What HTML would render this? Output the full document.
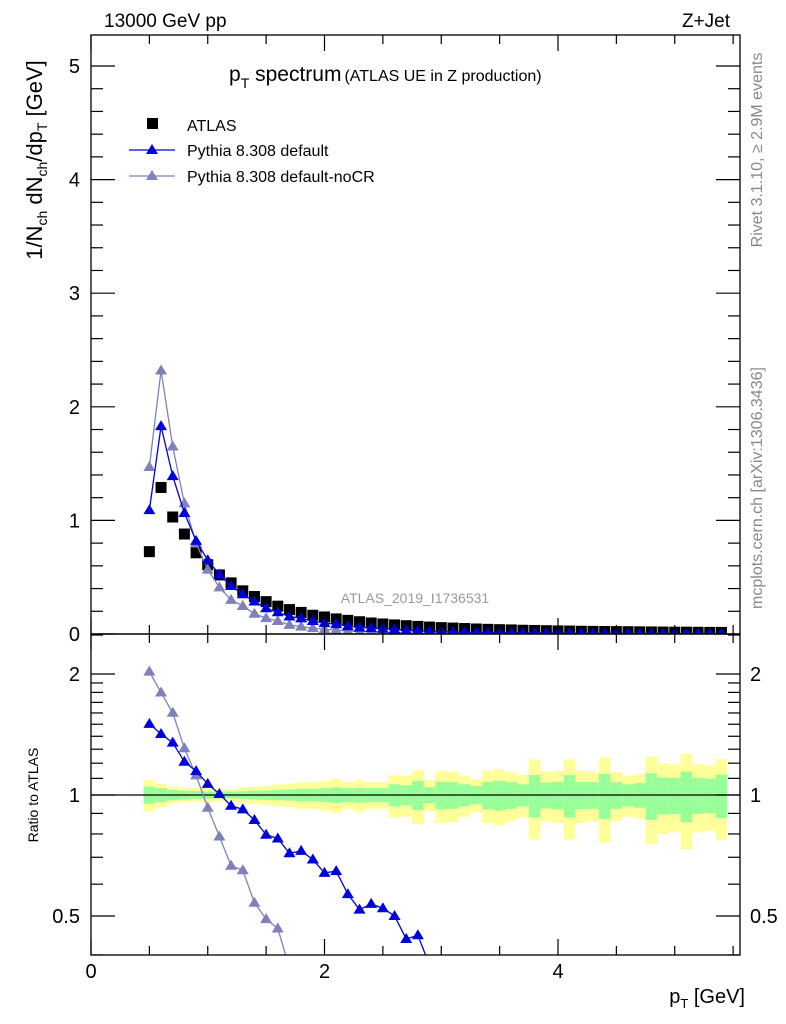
<!DOCTYPE html>
<html><head><meta charset="utf-8"><style>
html,body{margin:0;padding:0;background:#fff;width:786px;height:1024px;overflow:hidden;}
svg{display:block;font-family:"Liberation Sans",Arial,sans-serif;}
</style></head><body>
<svg id="chart" width="786" height="1024" viewBox="0 0 786 1024" xmlns="http://www.w3.org/2000/svg">
<defs>
<clipPath id="clipTop"><rect x="91" y="35" width="649" height="599"/></clipPath>
<clipPath id="clipBot"><rect x="91" y="634" width="649" height="321"/></clipPath>
</defs>
<g id="bands" clip-path="url(#clipBot)"></g>
<g id="ratio" clip-path="url(#clipBot)"></g>
<g id="top" clip-path="url(#clipTop)"></g>
<g id="axes"></g>
<text x="104" y="27" font-size="19">13000 GeV pp</text>
<text x="730" y="27" font-size="19" text-anchor="end">Z+Jet</text>
<text x="229" y="81" font-size="21">p<tspan font-size="14" dy="7">T</tspan><tspan dy="-7"> spectrum</tspan><tspan font-size="16" dx="3">(ATLAS UE in Z production)</tspan></text>
<g>
<rect x="147" y="118" width="11" height="11" fill="#000"/>
<text x="187" y="131" font-size="16">ATLAS</text>
<line x1="129" y1="150" x2="175" y2="150" stroke="#0000dd" stroke-width="1.3"/>
<polygon points="152,144 146,154 158,154" fill="#0000dd"/>
<text x="187" y="156" font-size="16">Pythia 8.308 default</text>
<line x1="129" y1="176" x2="175" y2="176" stroke="#8080bb" stroke-width="1.3"/>
<polygon points="152,170 146,180 158,180" fill="#8080bb"/>
<text x="187" y="182" font-size="16">Pythia 8.308 default-noCR</text>
</g>
<text x="415" y="603" font-size="14" fill="#999" text-anchor="middle">ATLAS_2019_I1736531</text>
<text transform="translate(42,160) rotate(-90)" font-size="22" text-anchor="middle">1/N<tspan font-size="14" dy="5">ch</tspan><tspan dy="-5"> dN</tspan><tspan font-size="14" dy="5">ch</tspan><tspan dy="-5">/dp</tspan><tspan font-size="14" dy="5">T</tspan><tspan dy="-5"> [GeV]</tspan></text>
<text transform="translate(38,795) rotate(-90)" font-size="14" text-anchor="middle">Ratio to ATLAS</text>
<text transform="translate(762,150) rotate(-90)" font-size="16" fill="#888" text-anchor="middle">Rivet 3.1.10, ≥ 2.9M events</text>
<text transform="translate(762,488) rotate(-90)" font-size="16" fill="#888" text-anchor="middle">mcplots.cern.ch [arXiv:1306.3436]</text>
<text x="745" y="1003" font-size="20" text-anchor="end">p<tspan font-size="13" dy="5">T</tspan><tspan dy="-5"> [GeV]</tspan></text>
</svg>
<script>
const xs = [0.5,0.6,0.7,0.8,0.9,1.0,1.1,1.2,1.3,1.4,1.5,1.6,1.7,1.8,1.9,2.0,2.1,2.2,2.3,2.4,2.5,2.6,2.7,2.8,2.9,3.0,3.1,3.2,3.3,3.4,3.5,3.6,3.7,3.8,3.9,4.0,4.1,4.2,4.3,4.4,4.5,4.6,4.7,4.8,4.9,5.0,5.1,5.2,5.3,5.4];
const atlas = [0.725,1.29,1.03,0.88,0.715,0.61,0.52,0.45,0.38,0.33,0.285,0.245,0.215,0.19,0.165,0.15,0.133,0.12,0.108,0.097,0.088,0.08,0.073,0.067,0.061,0.056,0.052,0.048,0.044,0.041,0.038,0.036,0.033,0.031,0.029,0.027,0.026,0.024,0.023,0.022,0.021,0.02,0.019,0.018,0.017,0.016,0.016,0.015,0.014,0.014];
const pyDefault = [1.09,1.83,1.39,1.065,0.82,0.65,0.523,0.423,0.35,0.286,0.227,0.191,0.154,0.138,0.114,0.096,0.086,0.068,0.056,0.052,0.046,0.04,0.032,0.03,0.023,0.02,0.018,0.016,0.014,0.012,0.011,0.01,0.009,0.008,0.007,0.0065,0.006,0.0055,0.005,0.0045,0.004,0.0038,0.0035,0.0032,0.003,0.0028,0.0026,0.0024,0.0022,0.002];
const pyNoCR = [1.47,2.32,1.65,1.15,0.80,0.567,0.41,0.30,0.247,0.178,0.14,0.114,0.08,0.065,0.052,0.042,0.034,0.027,0.022,0.018,0.015,0.012,0.01,0.008,0.007,0.006,0.005,0.0045,0.004,0.0035,0.003,0.0027,0.0024,0.0021,0.0019,0.0017,0.0015,0.0013,0.0012,0.0011,0.001,0.0009,0.0008,0.0007,0.0006,0.0006,0.0005,0.0005,0.0004,0.0004];
const errYellow = [0.09,0.067,0.049,0.04,0.04,0.04,0.036,0.034,0.043,0.049,0.054,0.061,0.067,0.076,0.076,0.085,0.097,0.076,0.088,0.076,0.076,0.12,0.117,0.153,0.088,0.148,0.143,0.117,0.094,0.148,0.16,0.139,0.121,0.225,0.14,0.148,0.225,0.148,0.14,0.239,0.14,0.117,0.126,0.246,0.2,0.193,0.266,0.193,0.185,0.228];
const errGreen = [0.049,0.04,0.03,0.025,0.022,0.02,0.02,0.02,0.022,0.025,0.027,0.03,0.032,0.036,0.036,0.04,0.045,0.04,0.043,0.04,0.04,0.063,0.058,0.083,0.045,0.079,0.076,0.063,0.052,0.079,0.085,0.076,0.063,0.121,0.074,0.079,0.121,0.077,0.076,0.128,0.076,0.063,0.07,0.133,0.106,0.103,0.144,0.103,0.099,0.124];
const yTopTicks = ["0","1","2","3","4","5"];
const xTickLabels = ["0","2","4"];
const ratioTicks = ["0.5","1","2"];

const NS="http://www.w3.org/2000/svg";
const X0=91,X1=740,YT0=634,YT1=35,YB0=955,YB1=634;
const px=v=>X0+v*116.75;
const pyTop=v=>634-v*113.6;
const pyRat=r=>795-121*Math.log2(r);
function mk(parent,tag,attrs){const e=document.createElementNS(NS,tag);for(const k in attrs)e.setAttribute(k,attrs[k]);parent.appendChild(e);return e;}
const gTop=document.getElementById('top'),gRat=document.getElementById('ratio'),gBand=document.getElementById('bands'),gAx=document.getElementById('axes');

xs.forEach((x,i)=>{
  const a=px(x-0.05),b=px(x+0.05);
  const y=mk(gBand,'rect',{x:a,y:pyRat(1+errYellow[i]),width:b-a,height:pyRat(1-errYellow[i])-pyRat(1+errYellow[i]),fill:'#ffff99'});
  
  
  const g=mk(gBand,'rect',{x:a,y:pyRat(1+errGreen[i]),width:b-a,height:pyRat(1-errGreen[i])-pyRat(1+errGreen[i]),fill:'#99ff99'});
  
  
});
mk(gRat,'line',{x1:X0,x2:X1,y1:pyRat(1),y2:pyRat(1),stroke:'#000','stroke-width':1.2});

function tri(parent,cx,cy,col){return mk(parent,'polygon',{points:`${cx},${cy-6} ${cx-6},${cy+4} ${cx+6},${cy+4}`,fill:col});}
function series(vals,col,name){
  const pts=xs.map((x,i)=>`${px(x)},${pyTop(vals[i])}`).join(' ');
  const l=mk(gTop,'polyline',{points:pts,fill:'none',stroke:col,'stroke-width':1.3});
  
  
  xs.forEach((x,i)=>{const t=tri(gTop,px(x),pyTop(vals[i]),col);
    
    });
  const rp=xs.map((x,i)=>`${px(x)},${pyRat(vals[i]/atlas[i])}`).join(' ');
  const rl=mk(gRat,'polyline',{points:rp,fill:'none',stroke:col,'stroke-width':1.3});
  
  
  xs.forEach((x,i)=>{const t=tri(gRat,px(x),pyRat(vals[i]/atlas[i]),col);
    
    });
}
xs.forEach((x,i)=>{const r=mk(gTop,'rect',{x:px(x)-5.5,y:pyTop(atlas[i])-5.5,width:11,height:11,fill:'#000'});
  
  });
series(pyNoCR,'#8080bb','pythia-nocr');
series(pyDefault,'#0000dd','pythia-default');

const f1=mk(gAx,'rect',{x:X0,y:YT1,width:X1-X0,height:YT0-YT1,fill:'none',stroke:'#000','stroke-width':1.3});


const f2=mk(gAx,'rect',{x:X0,y:YB1,width:X1-X0,height:YB0-YB1,fill:'none',stroke:'#000','stroke-width':1.3});


function ln(x1,y1,x2,y2){mk(gAx,'line',{x1,y1,x2,y2,stroke:'#000','stroke-width':1.2});}
for(let v=0;v<=5.2;v+=0.2){const y=pyTop(v);const maj=Math.abs(v-Math.round(v))<1e-6;const L=maj?24:12;ln(X0,y,X0+L,y);ln(X1,y,X1-L,y);}
yTopTicks.forEach(t=>{const e=mk(gAx,'text',{x:80,y:pyTop(+t)+7,'font-size':20,'text-anchor':'end'});e.textContent=t;
  
  });
for(let v=0;v<=5.5;v+=0.5){const x=px(v);const maj=Math.abs(v/2-Math.round(v/2))<1e-6;const L=maj?16:9;
  ln(x,YT0,x,YT0-L);ln(x,YT1,x,YT1+L);ln(x,YB0,x,YB0-L);ln(x,YB1,x,YB1+L);}
xTickLabels.forEach(t=>{const e=mk(gAx,'text',{x:px(+t),y:978,'font-size':20,'text-anchor':'middle'});e.textContent=t;
  
  });
[0.4,0.5,0.6,0.7,0.8,0.9,1,1.1,1.2,1.3,1.4,1.5,1.6,1.7,1.8,1.9,2,2.5].forEach(r=>{const y=pyRat(r);if(y<YB1||y>YB0)return;const maj=(r===0.5||r===1||r===2);const L=maj?24:12;ln(X0,y,X0+L,y);ln(X1,y,X1-L,y);});
ratioTicks.forEach(t=>{const y=pyRat(+t)+7;
  const e=mk(gAx,'text',{x:80,y,'font-size':20,'text-anchor':'end'});e.textContent=t;
  
  
  const e2=mk(gAx,'text',{x:750,y,'font-size':20});e2.textContent=t;
  
  });
</script>
</body></html>
